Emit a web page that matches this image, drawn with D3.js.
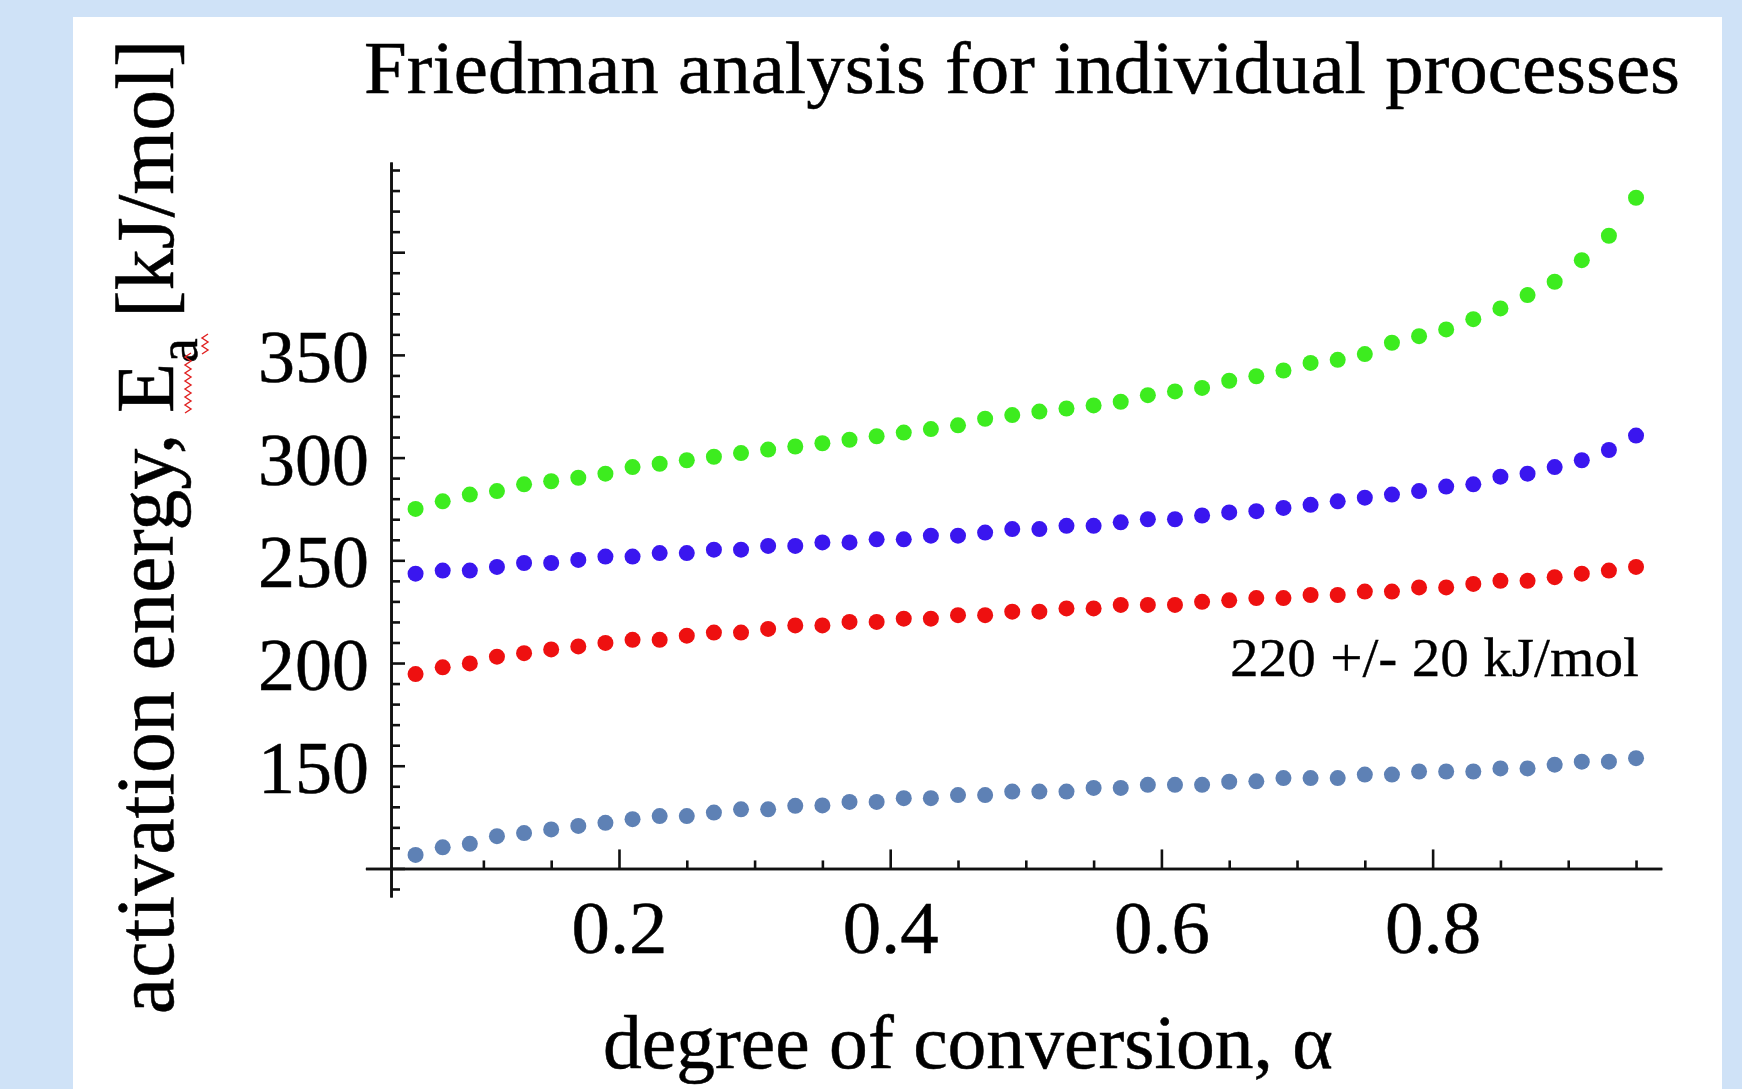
<!DOCTYPE html>
<html>
<head>
<meta charset="utf-8">
<script src="https://cdn.jsdelivr.net/npm/d3@7"></script>
<style>
  body { margin: 0; background: #cfe2f7; }
  text { font-family: "Liberation Serif", "Times New Roman", serif; fill: #000; stroke: #000; stroke-width: 0.5; }
</style>
</head>
<body>
<script>
// degree of conversion (x) and activation energies for the four processes
var alpha = [0.05, 0.07, 0.09, 0.11, 0.13, 0.15, 0.17, 0.19, 0.21, 0.23, 0.25, 0.27, 0.29, 0.31, 0.33, 0.35,
    0.37, 0.39, 0.41, 0.43, 0.45, 0.47, 0.49, 0.51, 0.53, 0.55, 0.57, 0.59, 0.61, 0.63, 0.65,
    0.67, 0.69, 0.71, 0.73, 0.75, 0.77, 0.79, 0.81, 0.83, 0.85, 0.87, 0.89, 0.91, 0.93, 0.95];

var eaGreen = [275.0, 278.7, 282.0, 283.7, 287.0, 288.5, 290.2, 292.2, 295.4, 297.0, 298.7, 300.4, 302.2, 303.9, 305.4, 307.0,
    308.7, 310.4, 312.2, 313.9, 315.7, 318.9, 320.7, 322.4, 323.9, 325.4, 327.2, 330.4, 332.2, 333.9, 337.4,
    339.6, 342.4, 346.1, 347.6, 350.4, 355.9, 359.1, 362.4, 367.4, 372.6, 379.1, 385.6, 396.1, 408.0, 426.5];

var eaBlue = [243.5, 245.0, 245.0, 246.8, 248.7, 248.7, 250.2, 251.8, 251.8, 253.5, 253.5, 255.2, 255.2, 257.0, 257.0, 258.7,
    258.7, 260.2, 260.2, 262.0, 262.0, 263.5, 265.2, 265.2, 266.8, 266.8, 268.5, 270.0, 270.0, 271.8, 273.3,
    273.9, 275.5, 277.0, 278.7, 280.5, 282.0, 283.7, 285.9, 287.0, 290.7, 292.2, 295.4, 298.7, 303.7, 310.7];

var eaRed = [194.6, 197.9, 199.8, 203.1, 204.8, 206.6, 208.1, 209.8, 211.3, 211.3, 213.3, 214.8, 214.8, 216.6, 218.3, 218.3,
    220.0, 220.0, 221.6, 221.6, 223.3, 223.3, 225.0, 225.0, 226.6, 226.6, 228.3, 228.3, 228.3, 229.8, 230.5,
    231.6, 231.6, 233.1, 233.1, 234.8, 234.8, 236.8, 236.8, 238.5, 240.0, 240.0, 241.8, 243.5, 245.0, 246.8];

var eaSteel = [106.6, 110.3, 112.0, 115.7, 117.2, 119.0, 120.7, 122.2, 124.0, 125.5, 125.5, 127.2, 128.8, 128.8, 130.5, 130.7,
    132.4, 132.4, 134.2, 134.2, 135.7, 135.7, 137.4, 137.4, 137.4, 139.2, 139.2, 140.7, 140.7, 140.7, 142.2,
    142.4, 144.0, 144.0, 144.0, 145.7, 145.7, 147.2, 147.2, 147.2, 148.7, 148.7, 150.5, 152.0, 152.0, 153.7];

var seriesNames = ["green", "blue", "red", "steel"];
var seriesColors = ["#3dec1f", "#3a16ef", "#ee1010", "#5e81b5"];

var xMajor = [0.2, 0.4, 0.6, 0.8];
var xMinor = [0.1, 0.15, 0.25, 0.3, 0.35, 0.45, 0.5, 0.55, 0.65, 0.7, 0.75, 0.85, 0.9, 0.95];
var yMajor = [100, 150, 200, 250, 300, 350, 400];
var yLabelled = [150, 200, 250, 300, 350];
var yMinor = [90, 110, 120, 130, 140, 160, 170, 180, 190, 210, 220, 230, 240, 260, 270, 280, 290,
    310, 320, 330, 340, 360, 370, 380, 390, 410, 420, 430, 440];

var titleText = "Friedman analysis for individual processes";
var noteText = "220 +/- 20 kJ/mol";

var svgWidth = 1742;
var svgHeight = 1089;

var svg = d3.select("body").append("svg")
    .attr("width", svgWidth).attr("height", svgHeight);

svg.append("rect").attr("width", svgWidth).attr("height", svgHeight).attr("fill", "#cfe2f7");
svg.append("rect").attr("x", 73).attr("y", 17).attr("width", 1649).attr("height", svgHeight - 17).attr("fill", "#fff");

var xScale = d3.scaleLinear().domain([0.013, 0.969]).range([365.4, 1661.8]);
var yScale = d3.scaleLinear().domain([86.1, 443.9]).range([897, 162]);

var xAxisY = yScale(100);
var yAxisX = xScale(0.0319);

// y axis: minor then major ticks, pointing into the plot
var yMinorAxis = d3.axisLeft(yScale).tickValues(yMinor).tickSizeInner(-9).tickSizeOuter(0).tickFormat("");
var yMajorAxis = d3.axisLeft(yScale).tickValues(yMajor).tickSizeInner(-14).tickSizeOuter(0).tickPadding(22)
    .tickFormat(d => yLabelled.indexOf(d) >= 0 ? d : "");

var gy1 = svg.append("g").attr("transform", `translate(${yAxisX},0)`).call(yMinorAxis);
var gy2 = svg.append("g").attr("transform", `translate(${yAxisX},0)`).call(yMajorAxis);
gy2.selectAll("text").attr("font-size", 74).attr("dy", "0.36em")
    .style("font-family", '"Liberation Serif", serif');

// x axis
var xMinorAxis = d3.axisBottom(xScale).tickValues(xMinor).tickSizeInner(-8).tickSizeOuter(0).tickFormat("");
var xMajorAxis = d3.axisBottom(xScale).tickValues(xMajor).tickSizeInner(-19).tickSizeOuter(0)
    .tickFormat(d3.format(".1f"));

var gx1 = svg.append("g").attr("transform", `translate(0,${xAxisY})`).call(xMinorAxis);
var gx2 = svg.append("g").attr("transform", `translate(0,${xAxisY})`).call(xMajorAxis);
gx2.selectAll("text").attr("font-size", 74).attr("y", 85).attr("dy", null)
    .attr("textLength", 96).attr("lengthAdjust", "spacingAndGlyphs")
    .style("font-family", '"Liberation Serif", serif');

svg.selectAll(".domain").attr("stroke", "#111").attr("stroke-width", 2.6);
svg.selectAll(".tick line").attr("stroke", "#111").attr("stroke-width", 2.6);

// points
var series = [eaGreen, eaBlue, eaRed, eaSteel];
series.forEach((vals, i) => {
    svg.append("g").attr("class", "series-" + seriesNames[i])
        .selectAll("circle").data(vals).enter().append("circle")
        .attr("cx", (d, j) => xScale(alpha[j]))
        .attr("cy", d => yScale(d))
        .attr("r", 8)
        .attr("fill", seriesColors[i]);
});

// texts
svg.append("text").attr("x", 1022).attr("y", 93).attr("text-anchor", "middle")
    .attr("font-size", 74).attr("textLength", 1316).attr("lengthAdjust", "spacingAndGlyphs")
    .text(titleText);

svg.append("text").attr("x", 1639).attr("y", 676).attr("text-anchor", "end")
    .attr("font-size", 55).attr("textLength", 409).attr("lengthAdjust", "spacingAndGlyphs")
    .style("stroke-width", 0.3).text(noteText);

svg.append("text").attr("x", 968).attr("y", 1068).attr("text-anchor", "middle")
    .attr("font-size", 76).attr("textLength", 730).attr("lengthAdjust", "spacingAndGlyphs")
    .text("degree of conversion, α");

var yLabel = svg.append("text")
    .attr("transform", "translate(173,527) rotate(-90)")
    .attr("text-anchor", "middle").attr("font-size", 82);
yLabel.append("tspan").text("activation energy, E");
yLabel.append("tspan").attr("dy", 24).attr("font-size", 56).text("a");
yLabel.append("tspan").attr("dy", -24).text(" [kJ/mol]");

// red spell-check squiggle under "Ea"
function squiggle(x, y0, y1) {
    var pts = [];
    var k = 0;
    for (var y = y0; y >= y1; y -= 4) {
        pts.push([x + (k % 2 ? 3 : -3), y]);
        k++;
    }
    return d3.line()(pts);
}
svg.append("path").attr("d", squiggle(188, 413, 350)).attr("fill", "none")
    .attr("stroke", "#e02020").attr("stroke-width", 1.4);
svg.append("path").attr("d", squiggle(205, 354, 332)).attr("fill", "none")
    .attr("stroke", "#e02020").attr("stroke-width", 1.4);
</script>
</body>
</html>
